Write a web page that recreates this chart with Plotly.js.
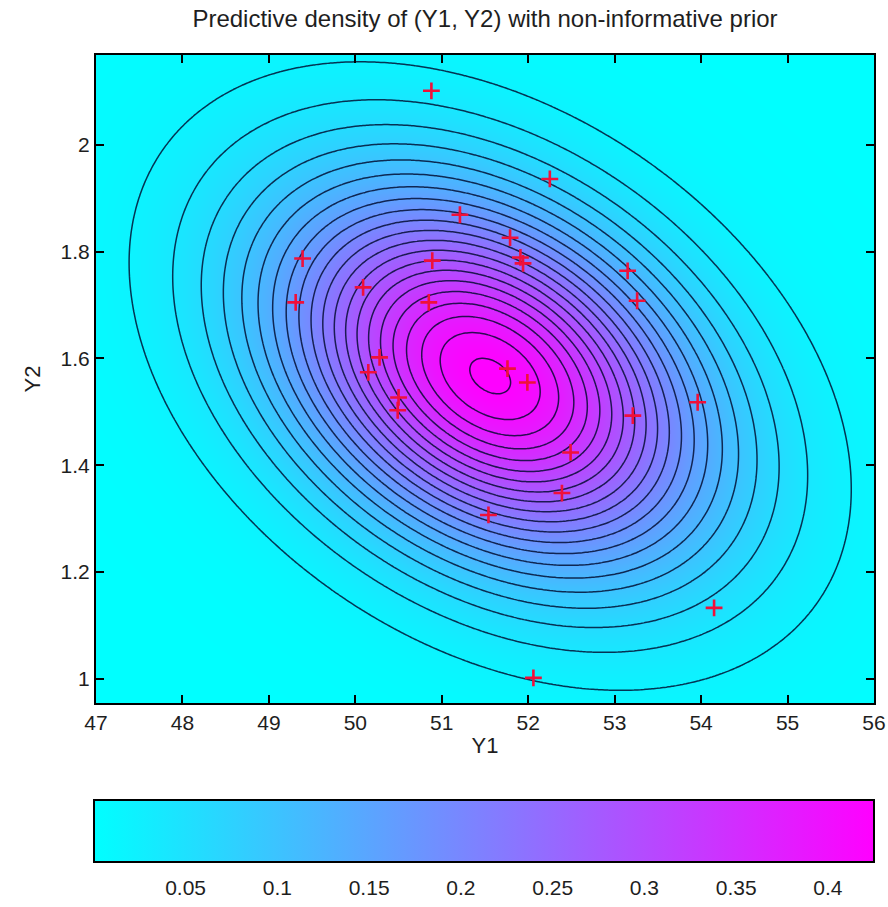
<!DOCTYPE html>
<html>
<head>
<meta charset="utf-8">
<script src="https://cdn.plot.ly/plotly-3.0.1.min.js"></script>
<style>html,body{margin:0;padding:0;background:#fff;}#chart{width:888px;height:907px;}</style>
</head>
<body>
<div id="chart"></div>
<script>
const y1Points = [50.88, 52.25, 51.21, 51.79, 51.91, 51.94, 53.15, 53.26, 49.39, 49.31, 50.09, 50.89, 50.85,
                  50.28, 50.15, 50.50, 50.49, 51.76, 51.99, 53.21, 53.96, 52.49, 52.39, 51.54, 54.15, 52.06];
const y2Points = [2.101, 1.936, 1.869, 1.826, 1.789, 1.778, 1.764, 1.708, 1.787, 1.705, 1.733, 1.783, 1.705,
                  1.602, 1.574, 1.527, 1.503, 1.581, 1.555, 1.493, 1.518, 1.424, 1.348, 1.307, 1.133, 1.002];

// Predictive density parameters (bivariate)
const meanY1 = 51.56;
const meanY2 = 1.567;
const sdY1 = 1.69;
const sdY2 = 0.238;
const rhoY = -0.36;

// Contour levels and colour-bar ticks
const levelStart = 0.02, levelEnd = 0.42, levelStep = 0.02;
const cbTicks = [0.05, 0.1, 0.15, 0.2, 0.25, 0.3, 0.35, 0.4];
const cbTickText = ['0.05', '0.1', '0.15', '0.2', '0.25', '0.3', '0.35', '0.4'];
const xTicks = [47, 48, 49, 50, 51, 52, 53, 54, 55, 56];
const yTicks = [1, 1.2, 1.4, 1.6, 1.8, 2];

// grid over the plotted window
const xMin = 47, xMax = 56, yMin = 0.955, yMax = 2.168;
const nx = 241, ny = 241;
const gx = [], gy = [];
for (let i = 0; i < nx; i++) gx.push(xMin + (xMax - xMin) * i / (nx - 1));
for (let j = 0; j < ny; j++) gy.push(yMin + (yMax - yMin) * j / (ny - 1));
const norm = 1 / (2 * Math.PI * sdY1 * sdY2 * Math.sqrt(1 - rhoY * rhoY));
const gz = gy.map(yv => gx.map(xv => {
  const a = (xv - meanY1) / sdY1, b = (yv - meanY2) / sdY2;
  const q = (a * a - 2 * rhoY * a * b + b * b) / (1 - rhoY * rhoY);
  return norm * Math.exp(-q / 2);
}));

const coolScale = [[0, 'rgb(0,255,255)'], [1, 'rgb(255,0,255)']];
const font = 'Arial, "Liberation Sans", Helvetica, sans-serif';
const txt = '#1e1e1e';

const traces = [
  {
    type: 'heatmap', x: gx, y: gy, z: gz, zsmooth: 'best',
    zmin: 0, zmax: 0.425, colorscale: coolScale, hoverinfo: 'skip',
    colorbar: {
      orientation: 'h', x: 0.4985, xanchor: 'center', y: -0.1497, yanchor: 'top',
      len: 780, lenmode: 'pixels', thickness: 62, thicknessmode: 'pixels',
      xpad: 0, ypad: 0,
      outlinecolor: '#000', outlinewidth: 2,
      ticks: 'outside', ticklen: 7, tickcolor: 'rgba(0,0,0,0)', tickwidth: 1,
      tickvals: cbTicks, ticktext: cbTickText,
      tickfont: {family: font, size: 21, color: txt}
    }
  },
  {
    type: 'contour', x: gx, y: gy, z: gz, showscale: false,
    contours: {start: levelStart, end: levelEnd, size: levelStep, coloring: 'none', showlines: true},
    line: {color: 'rgba(0,10,45,0.82)', width: 1.5, smoothing: 1},
    hoverinfo: 'skip'
  },
  {
    type: 'scatter', mode: 'markers', x: y1Points, y: y2Points,
    marker: {symbol: 'cross-thin', size: 12, color: '#f0103a', line: {color: '#f0103a', width: 2.6}},
    hoverinfo: 'x+y', showlegend: false
  }
];

const layout = {
  width: 888, height: 907,
  margin: {l: 96, r: 14, t: 55, b: 204, autoexpand: false},
  paper_bgcolor: '#fff', plot_bgcolor: 'rgb(0,255,255)',
  showlegend: false,
  title: {text: 'Predictive density of (Y1, Y2) with non-informative prior',
          font: {family: font, size: 24, color: txt}, xref: 'paper', x: 0.5, xanchor: 'center',
          yref: 'container', y: 0.980, yanchor: 'middle'},
  xaxis: {
    range: [xMin, xMax], tickvals: xTicks, ticks: 'inside', ticklen: 8, tickcolor: '#000', tickwidth: 1.5,
    showline: true, linecolor: '#000', linewidth: 2, mirror: 'ticks', showgrid: false, zeroline: false,
    tickfont: {family: font, size: 21, color: txt},
    title: {text: 'Y1', font: {family: font, size: 22, color: txt}, standoff: 4}
  },
  yaxis: {
    range: [yMin, yMax], tickvals: yTicks, ticks: 'inside', ticklen: 8, tickcolor: '#000', tickwidth: 1.5,
    showline: true, linecolor: '#000', linewidth: 2, mirror: 'ticks', showgrid: false, zeroline: false,
    tickfont: {family: font, size: 21, color: txt},
    title: {text: 'Y2', font: {family: font, size: 22, color: txt}, standoff: 14}
  }
};

Plotly.newPlot('chart', traces, layout, {displayModeBar: false});
</script>
</body>
</html>
